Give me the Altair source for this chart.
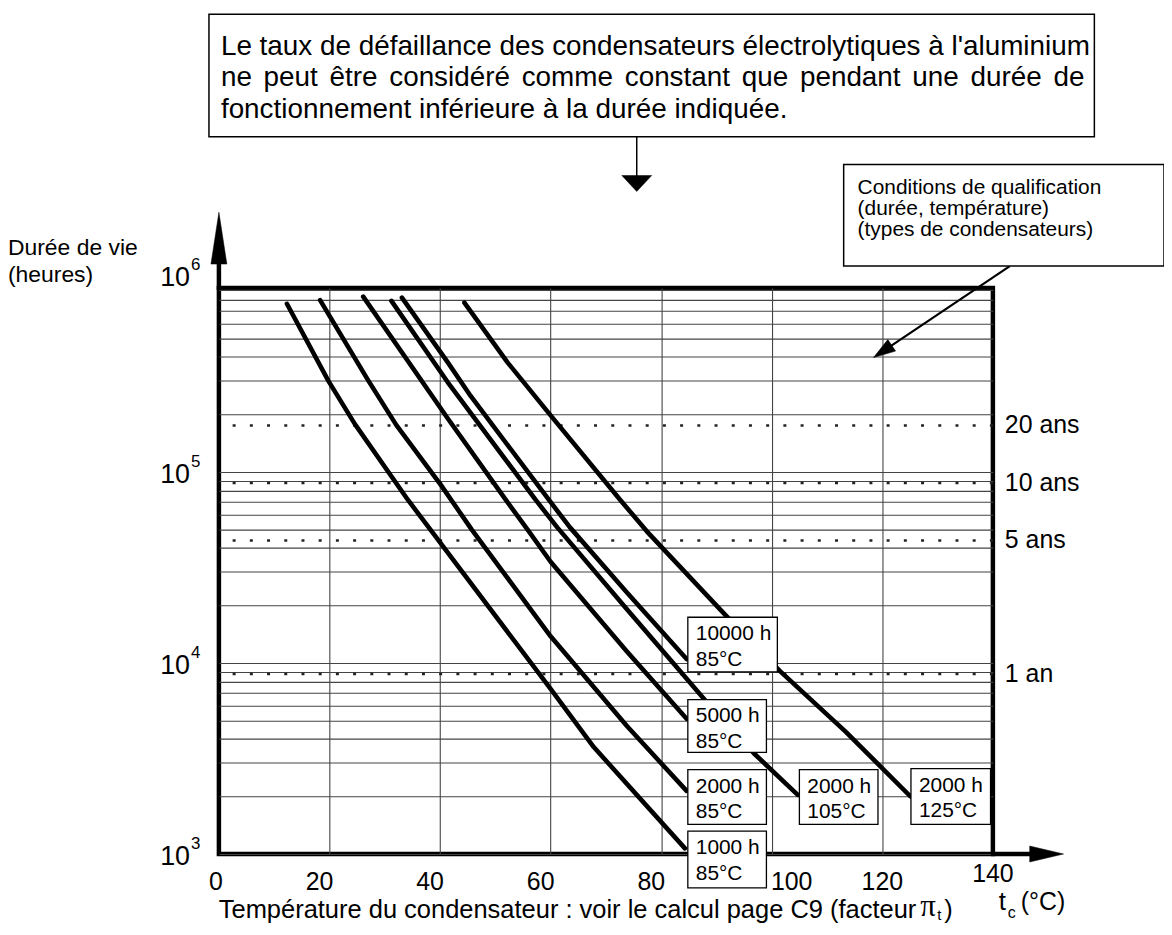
import altair as alt
import pandas as pd

# ---------------- values ----------------
# life-time curves: temperature (°C) and life (hours)
temp_1000h_85 = [12.3, 19.8, 24.6, 34.2, 38.7, 60.1, 67.8, 84.3]
life_1000h_85 = [760000, 300000, 178000, 71400, 48000, 7250, 3630, 1070]
temp_2000h_85 = [18.3, 27.0, 32.1, 40.2, 45.7, 60.0, 73.8, 84.6]
life_2000h_85 = [794000, 302000, 176000, 85100, 50100, 13800, 4680, 2140]
temp_5000h_85 = [26.1, 41.4, 51.9, 55.8, 60.0, 73.8, 84.6]
life_5000h_85 = [828000, 190500, 71400, 50100, 33900, 11500, 5100]
temp_2000h_105 = [31.2, 41.4, 57.3, 61.2, 73.8, 87.8, 96.8, 104.7]
life_2000h_105 = [787000, 295000, 71400, 51300, 19100, 6460, 3360, 2040]
temp_10000h_85 = [33.1, 41.4, 45.5, 59.7, 63.5, 73.8, 84.6]
life_10000h_85 = [818000, 375000, 251000, 71400, 51300, 23400, 10500]
temp_2000h_125 = [44.4, 52.2, 60.0, 72.6, 77.4, 91.8, 101.4, 113.4, 125.1]
life_2000h_125 = [771000, 375000, 198000, 71400, 48900, 17600, 9120, 4360, 2000]

# qualification conditions (label boxes)
qual_texts = ["10000 h\n85°C", "5000 h\n85°C", "2000 h\n85°C", "1000 h\n85°C",
              "2000 h\n105°C", "2000 h\n125°C"]
qual_temps = [85, 85, 85, 85, 105, 125]
qual_hours = [10000, 5000, 2000, 1000, 2000, 2000]

# durations in years
year_labels = ["20 ans", "10 ans", "5 ans", "1 an"]
year_hours = [175200, 87600, 43800, 8760]

# ticks and grid
temp_ticks = [0, 20, 40, 60, 80, 100, 120, 140]
temp_grid = [20, 40, 60, 80, 100, 120]
hour_grid = [1000, 2000, 3000, 4000, 5000, 6000, 7000, 8000, 9000,
             10000, 20000, 30000, 40000, 50000, 60000, 70000, 80000, 90000,
             100000, 200000, 300000, 400000, 500000, 600000, 700000, 800000, 900000]
decade_values = [1000, 10000, 100000, 1000000]
decade_exps = ["3", "4", "5", "6"]

note_top = ["Le taux de défaillance des condensateurs électrolytiques à l'aluminium",
            "ne peut être considéré comme constant que pendant une durée de",
            "fonctionnement inférieure à la durée indiquée."]
note_right = ["Conditions de qualification", "(durée, température)",
              "(types de condensateurs)"]

# ---------------- tables ----------------
series = [
    ("1000 h 85°C", temp_1000h_85, life_1000h_85),
    ("2000 h 85°C", temp_2000h_85, life_2000h_85),
    ("5000 h 85°C", temp_5000h_85, life_5000h_85),
    ("2000 h 105°C", temp_2000h_105, life_2000h_105),
    ("10000 h 85°C", temp_10000h_85, life_10000h_85),
    ("2000 h 125°C", temp_2000h_125, life_2000h_125),
]
rows = []
for name, ts, hs in series:
    for i, (t, h) in enumerate(zip(ts, hs)):
        rows.append({"serie": name, "idx": i, "temp": t, "hours": h})
curves = pd.DataFrame(rows)

qual = pd.DataFrame({"lab": qual_texts, "temp": qual_temps, "hours": qual_hours,
                     "k": list(range(len(qual_texts)))})
years = pd.DataFrame({"lab": year_labels, "hours": year_hours})
xt = pd.DataFrame({"temp": temp_ticks, "lab": [str(v) for v in temp_ticks]})
yt = pd.DataFrame({"hours": decade_values, "exp": decade_exps})
one = pd.DataFrame({"k": [0]})

# ---------------- styles ----------------
W, H = 778, 569
REG = "Liberation Sans, Arial, Helvetica, sans-serif"
GRID = "#444444"

xscale = alt.Scale(domain=[0, 140], nice=False, zero=False)
yscale = alt.Scale(type="log", domain=[1000, 920000], nice=False)
xaxis = alt.Axis(values=temp_grid, grid=True, labels=False, ticks=False, domain=False,
                 title=None, gridColor=GRID, gridWidth=1.1)
yaxis = alt.Axis(values=hour_grid, grid=True, labels=False, ticks=False, domain=False,
                 title=None, gridColor=GRID, gridWidth=1.1)


def X():
    return alt.X("temp:Q", scale=xscale, axis=xaxis)


def Y():
    return alt.Y("hours:Q", scale=yscale, axis=yaxis)


layers = []

# dotted year lines
layers.append(alt.Chart(years).mark_rule(strokeDash=[3, 14.3], strokeWidth=2.6, color="#222")
              .encode(y=Y()))

# curves
layers.append(alt.Chart(curves).mark_line(color="black", strokeWidth=4.6, strokeCap="round",
                                          strokeJoin="round")
              .encode(x=X(), y=Y(), detail="serie:N", order="idx:Q"))

# qualification label boxes (box geometry relative to the curve end, in px)
box_geom = {  # k: (x0, x1, y0, y1)
    0: (-1, 89, -46, 9),
    1: (-1, 78, -21, 32),
    2: (-1, 78, -27, 28),
    3: (-1, 78, -23, 34),
    4: (0, 79, -27, 28),
    5: (1, 81, -28, 28),
}
for k, (x0, x1, y0, y1) in box_geom.items():
    path = f"M{x0},{y0}L{x1},{y0}L{x1},{y1}L{x0},{y1}Z"
    base = alt.Chart(qual).transform_filter(alt.datum.k == k)
    layers.append(base.mark_point(shape=path, size=4, filled=True, fill="white", stroke="black",
                                  strokeWidth=1.3, opacity=1)
                  .encode(x=X(), y=Y()))
    layers.append(base.mark_text(align="left", baseline="middle", dx=x0 + 8, dy=y0 + 17,
                                 lineBreak="\n", lineHeight=26, fontSize=21, font=REG,
                                 color="black")
                  .encode(x=X(), y=Y(), text="lab:N"))

# year labels at the right
layers.append(alt.Chart(years).mark_text(align="left", baseline="middle", dx=12, fontSize=25,
                                         font=REG, color="black")
              .encode(x=alt.value(W), y=Y(), text="lab:N"))

# x tick labels
xt_base = alt.Chart(xt)
for cond, dx, yy in [(alt.datum.temp == 0, -3, H + 28),
                     ((alt.datum.temp > 0) & (alt.datum.temp <= 80), -10, H + 28),
                     (alt.datum.temp == 100, 20, H + 28),
                     (alt.datum.temp == 120, 0, H + 28),
                     (alt.datum.temp == 140, 0, H + 20)]:
    layers.append(xt_base.transform_filter(cond)
                  .mark_text(baseline="middle", dx=dx, fontSize=25, font=REG, color="black")
                  .encode(x=X(), y=alt.value(yy), text="lab:N"))

# y decade labels 10^n
for cond, dy in [(alt.datum.hours < 500000, 3), (alt.datum.hours > 500000, -3)]:
    yb = alt.Chart(yt).transform_filter(cond)
    layers.append(yb.mark_text(align="right", baseline="middle", dy=dy, fontSize=27,
                               font=REG, color="black")
                  .encode(x=alt.value(-29), y=Y(), text=alt.value("10")))
    layers.append(yb.mark_text(align="left", baseline="middle", dy=dy - 13, fontSize=17,
                               font=REG, color="black")
                  .encode(x=alt.value(-28), y=Y(), text="exp:N"))


def txt(s, x, y, size, font=REG, align="left", **kw):
    return (alt.Chart(pd.DataFrame({"t": [s]}))
            .mark_text(align=align, baseline="middle", fontSize=size, font=font, color="black", **kw)
            .encode(x=alt.value(x), y=alt.value(y), text="t:N"))


def rule(x, y, x2, y2, w):
    return (alt.Chart(one).mark_rule(color="black", strokeWidth=w)
            .encode(x=alt.value(x), y=alt.value(y), x2=alt.value(x2), y2=alt.value(y2)))


# approximate Helvetica/Arial advance widths (per 1000 em) to justify a text line
ADV = {" ": 278, "a": 556, "b": 556, "c": 500, "d": 556, "e": 556, "é": 556, "ê": 556,
       "f": 278, "g": 556, "h": 556, "i": 222, "l": 222, "m": 833, "n": 556, "o": 556,
       "p": 556, "q": 556, "r": 333, "s": 500, "t": 278, "u": 556, "v": 500, "x": 500,
       "y": 500, "à": 556, "'": 191, ".": 278}


def adv(s, size):
    return sum(ADV.get(ch, 556) for ch in s) * size / 1000.0


def justified(line, x_left, x_right, y, size):
    words = line.split(" ")
    total = sum(adv(w, size) for w in words)
    gap = (x_right - x_left - total) / (len(words) - 1)
    out = []
    xpos = x_left
    for w in words:
        out.append(txt(w, xpos, y, size))
        xpos += adv(w, size) + gap
    return out


# axis titles
layers.append(txt("Durée de vie", -212, -40, 23))
layers.append(txt("(heures)", -212, -13, 23))
layers.append(txt("t", 784, 617, 26))
layers.append(txt("c", 793, 628, 16))
layers.append(txt("(°C)", 806, 617, 25))
layers.append(txt("Température du condensateur : voir le calcul page C9 (facteur", 701, 625, 25.6,
                  align="right"))
layers.append(txt("π", 705, 622, 31, font="Liberation Serif, DejaVu Serif, serif"))
layers.append(txt("t", 722, 630, 15))
layers.append(txt(")", 729, 625, 25.6))

# axis extensions and arrows
layers.append(rule(0, 2, 0, -28, 4.5))
layers.append(rule(776, H, 818, H, 4.5))
layers.append(rule(420, -152, 420, -110, 1.5))
layers.append(rule(795, -22, 670, 62, 2.2))
arrows = ("M0,-76L-8,-24L8,-24Z "
          "M849,569L815,561L815,577Z "
          "M420,-97L405,-113L435,-113Z "
          "M658,70L680.2,63.5L672.4,51.9Z")
layers.append(alt.Chart(one).mark_point(shape=arrows, size=4, filled=True, fill="black",
                                        stroke="black", strokeWidth=0.5, opacity=1)
              .encode(x=alt.value(0), y=alt.value(0)))

# note boxes
layers.append(alt.Chart(one).mark_rect(fill="white", stroke="black", strokeWidth=1.5)
              .encode(x=alt.value(-10), x2=alt.value(880), y=alt.value(-275), y2=alt.value(-152)))
layers.append(txt(note_top[0], 2, -242, 28))
layers.extend(justified(note_top[1], 2, 870, -211, 28))
layers.append(txt(note_top[2], 2, -179, 28))
layers.append(alt.Chart(one).mark_rect(fill="white", stroke="black", strokeWidth=1.5)
              .encode(x=alt.value(628), x2=alt.value(950), y=alt.value(-124), y2=alt.value(-22)))
layers.append(txt("\n".join(note_right), 642, -100, 21, lineBreak="\n", lineHeight=21))

chart = (alt.layer(*layers)
         .properties(width=W, height=H,
                     autosize=alt.AutoSizeParams(type="none"),
                     padding={"left": 212, "top": 279, "right": 172, "bottom": 70},
                     background="white")
         .configure_view(stroke="black", strokeWidth=4.5))

chart.save("out.html", embed_options={"renderer": "svg", "actions": False})
